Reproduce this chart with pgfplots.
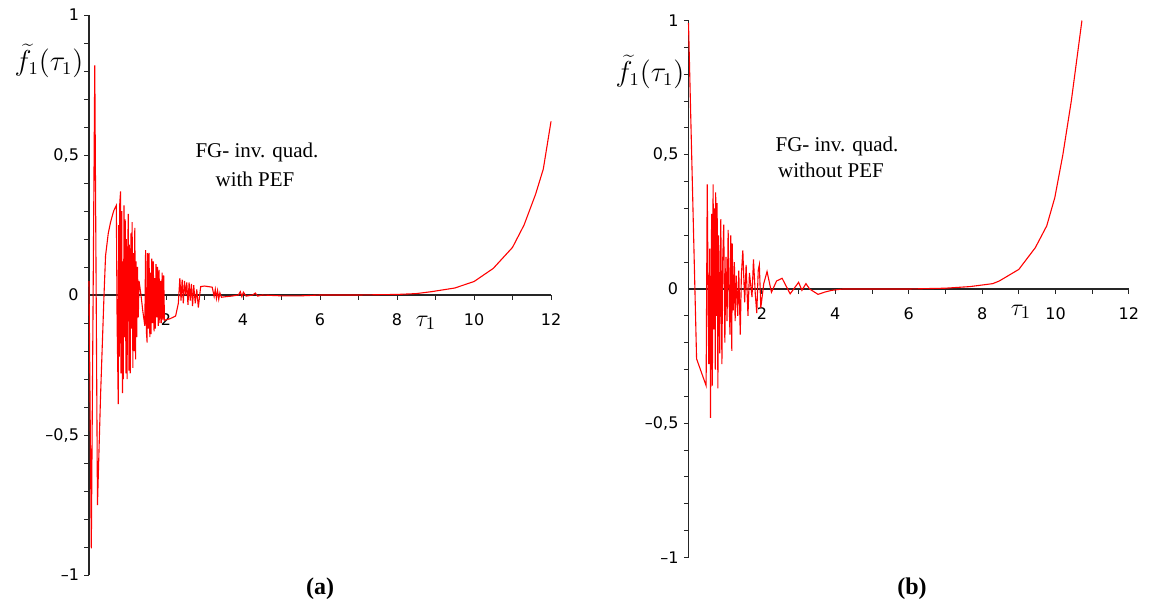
\documentclass[border=0pt]{standalone}
\usepackage{fontspec}
\setmainfont{Liberation Serif}
\newfontfamily\tickfont{DejaVu Sans}
\usepackage{pgfplots}
\pgfplotsset{compat=1.18}

\definecolor{curve}{RGB}{255,0,0}
\newcommand\tickfs{\tickfont\fontsize{8}{9.5}\selectfont}

% Maple-like axes: lines through the origin, outward ticks
\pgfplotsset{maple/.style={
    axis lines=middle,
    axis line style={-, black!85, line width=0.65pt},
    enlargelimits=false, clip=false,
    xmin=0, xmax=12, ymin=-1, ymax=1,
    xtick={2,4,...,12},
    ytick={-1,-0.5,0,0.5,1},
    yticklabels={{–1},{–0,5},{0},{0,5},{1}},
    minor x tick num=1, minor y tick num=4,
    tick align=outside,
    major tick length=2.3pt, minor tick length=2.3pt,
    tick style={black!85, line width=0.5pt},
    /pgf/number format/assume math mode=true,
    ticklabel style={font=\tickfs},
    xticklabel style={yshift=-3.5pt},
    yticklabel style={xshift=0.8pt},
  }}

\begin{document}
\begin{tikzpicture}
\path[use as bounding box] (0,0) rectangle (574.5pt,303.5pt);

% (a) with PEF
\begin{axis}[maple, at={(44.5pt,156pt)}, anchor=origin, x=19.25pt, y=140pt]
\addplot[curve, line width=0.55pt] coordinates {
(0,0.05) (0.06,-0.905) (0.15,0.82) (0.22,-0.75) (0.30,-0.36) (0.39,0.0)
(0.43,0.14) (0.50,0.22) (0.56,0.26) (0.64,0.30) (0.71,0.32)
(0.73,-0.10) (0.76,-0.39) (0.77,0.25) (0.79,-0.22) (0.80,0.33) (0.82,0.37)
(0.83,-0.28) (0.85,0.30) (0.87,-0.35) (0.88,0.12) (0.89,-0.30) (0.91,0.32)
(0.92,-0.15) (0.94,0.27) (0.96,-0.28) (0.97,0.20) (0.99,-0.30) (1.00,0.10)
(1.02,0.29) (1.04,-0.27) (1.05,0.18) (1.07,-0.28) (1.09,0.22) (1.10,-0.12)
(1.12,0.26) (1.14,-0.26) (1.15,0.15) (1.17,-0.20) (1.19,0.24) (1.21,-0.23)
(1.22,0.12) (1.24,-0.15) (1.26,0.10) (1.28,-0.08) (1.30,0.05)
(1.35,0.0) (1.40,-0.06) (1.45,-0.11)
(1.47,0.16) (1.49,-0.13) (1.51,-0.17) (1.52,0.15) (1.54,-0.12) (1.56,0.15)
(1.58,-0.15) (1.59,0.08) (1.61,-0.14) (1.63,0.13) (1.65,-0.10) (1.67,0.12)
(1.69,-0.13) (1.70,0.06) (1.72,-0.12) (1.74,0.11) (1.76,-0.08) (1.78,0.10)
(1.80,-0.11) (1.82,0.09) (1.84,-0.10) (1.86,0.05) (1.88,-0.10) (1.90,0.08)
(1.92,-0.09) (1.94,0.07) (1.96,-0.09)
(2.10,-0.085) (2.25,-0.075) (2.32,-0.03)
(2.36,0.06) (2.39,-0.02) (2.42,0.055) (2.45,-0.03) (2.48,0.05) (2.51,0.0)
(2.54,0.045) (2.57,-0.035) (2.60,0.045) (2.63,-0.02) (2.66,0.04) (2.69,-0.04)
(2.72,0.035) (2.76,-0.03) (2.80,0.02) (2.84,-0.045)
(2.90,0.03) (3.0,0.032) (3.1,0.03) (3.2,0.028)
(3.25,-0.005) (3.28,0.02) (3.31,-0.012) (3.34,0.015) (3.37,-0.015) (3.40,0.008)
(3.44,-0.008) (3.55,-0.006) (3.7,-0.004) (3.88,0.0) (3.93,0.012) (3.97,-0.006)
(4.01,0.01) (4.08,-0.004) (4.25,0.0) (4.32,0.007) (4.38,-0.004) (4.5,0.0)
(5.0,-0.003) (5.5,-0.003) (6.0,0.0) (7.0,0.0)
(8.0,0.002) (8.5,0.005) (8.9,0.012) (9.5,0.025) (10.0,0.048) (10.5,0.095)
(11.0,0.17) (11.3,0.25) (11.6,0.36) (11.8,0.45) (12.0,0.62)
};
\node[anchor=east, inner sep=0pt, font=\tickfs] at (axis cs:0,0) [xshift=-5pt] {0};
\end{axis}

% (b) without PEF
\begin{axis}[maple, at={(344.25pt,159pt)}, anchor=origin, x=18.35pt, y=134.25pt]
\addplot[curve, line width=0.55pt] coordinates {
(0,0.99) (0.22,-0.26) (0.48,-0.36)
(0.51,0.39) (0.55,-0.28) (0.58,0.15) (0.60,-0.48) (0.63,0.28) (0.65,-0.36)
(0.67,0.39) (0.69,-0.15) (0.71,0.30) (0.73,-0.30) (0.74,0.36) (0.76,-0.10)
(0.78,0.32) (0.80,-0.37) (0.82,0.20) (0.85,-0.24) (0.88,0.26) (0.91,-0.28)
(0.93,0.10) (0.96,0.24) (0.99,-0.20) (1.02,0.12) (1.05,-0.12) (1.08,0.22)
(1.11,-0.06) (1.13,-0.17) (1.15,0.20) (1.18,-0.23) (1.19,0.17) (1.22,-0.08)
(1.25,0.10) (1.27,-0.12) (1.30,0.05) (1.34,-0.10) (1.37,0.068) (1.41,-0.17)
(1.44,0.05) (1.48,0.144) (1.53,-0.05) (1.57,0.09) (1.62,-0.10) (1.66,0.06)
(1.73,-0.03) (1.77,0.11) (1.82,-0.02) (1.86,-0.09) (1.90,0.07) (1.93,0.09)
(1.97,-0.07) (2.05,0.02) (2.14,0.065) (2.26,-0.012) (2.40,0.03) (2.55,0.04)
(2.77,-0.018) (3.0,0.025) (3.09,-0.005) (3.2,0.02) (3.3,0.0) (3.53,-0.02)
(3.7,-0.012) (3.9,-0.005) (4.2,0.0) (5.0,0.0) (6.0,0.0)
(7.0,0.003) (7.67,0.009) (8.29,0.02) (8.47,0.03) (9.0,0.073) (9.45,0.154)
(9.76,0.235) (9.98,0.34) (10.2,0.5) (10.43,0.70) (10.72,1.0)
};
\node[anchor=east, inner sep=0pt, font=\tickfs] at (axis cs:0,0) [xshift=-5pt] {0};
\end{axis}

% annotations
\node[inner sep=1pt, font=\fontsize{13.5}{15}\selectfont] at (24.5pt,273pt) {$\widetilde{f}_1(\tau_1)$};
\node[inner sep=1pt, font=\fontsize{13.5}{15}\selectfont] at (325pt,267.5pt) {$\widetilde{f}_1(\tau_1)$};
\node[font=\fontsize{13}{15}\selectfont] at (213pt,142pt) {$\tau_1$};
\node[font=\fontsize{13}{15}\selectfont] at (510.5pt,147.5pt) {$\tau_1$};

\node[font=\fontsize{10.5}{12}\selectfont] at (128.5pt,227.5pt) {FG- inv. quad.};
\node[font=\fontsize{10.5}{12}\selectfont] at (127.5pt,214pt) {with PEF};
\node[font=\fontsize{10.5}{12}\selectfont] at (418.5pt,230.5pt) {FG- inv. quad.};
\node[font=\fontsize{10.5}{12}\selectfont] at (415.5pt,218.5pt) {without PEF};

\node[font=\bfseries\fontsize{12}{14}\selectfont] at (160pt,9pt) {(a)};
\node[font=\bfseries\fontsize{12}{14}\selectfont] at (456pt,9pt) {(b)};
\end{tikzpicture}
\end{document}
